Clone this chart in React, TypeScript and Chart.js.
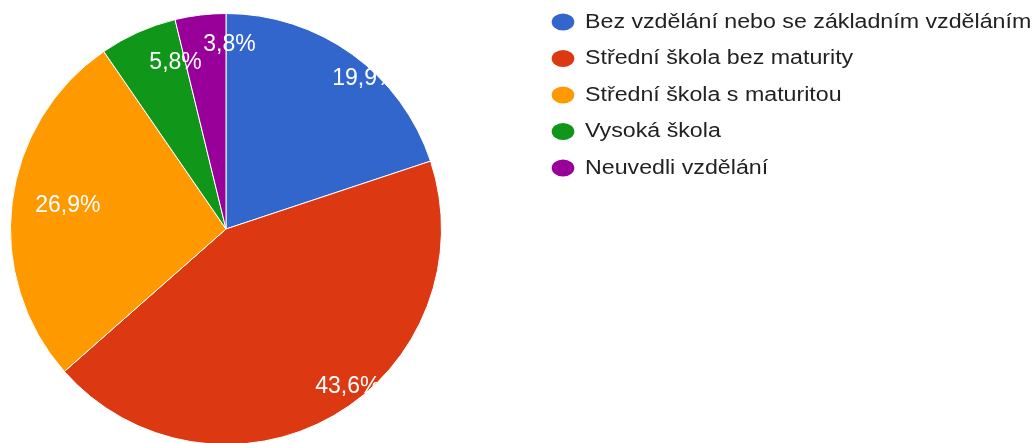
import React, { useEffect, useRef } from "react";
import { Chart, registerables } from "chart.js";

Chart.register(...registerables);

const categories = [
  "Bez vzdělání nebo se základním vzděláním",
  "Střední škola bez maturity",
  "Střední škola s maturitou",
  "Vysoká škola",
  "Neuvedli vzdělání",
];
const shares = [19.9, 43.6, 26.9, 5.8, 3.8];
const sliceLabels = ["19,9%", "43,6%", "26,9%", "5,8%", "3,8%"];
const colors = ["#3366cc", "#dc3912", "#ff9900", "#109618", "#990099"];

// label placement styling: nudges (px) from the point at 0.8R on each slice's mid-angle
const LABEL_NUDGES: [number, number][] = [
  [38, -11],
  [36, 8],
  [13, -2],
  [20, -9],
  [24, -13],
];

const pieLabelsPlugin = {
  id: "pieLabels",
  afterDatasetsDraw(chart: any) {
    const ctx = chart.ctx;
    const meta = chart.getDatasetMeta(0);
    if (!meta.data.length) return;
    const first = meta.data[0];
    const cx = first.x;
    const cy = first.y;
    const R = first.outerRadius;
    ctx.save();
    ctx.beginPath();
    ctx.arc(cx, cy, R, 0, Math.PI * 2);
    ctx.clip();
    ctx.fillStyle = "#ffffff";
    ctx.font = "23px Arial, 'Liberation Sans', sans-serif";
    ctx.textAlign = "center";
    ctx.textBaseline = "middle";
    meta.data.forEach((arc: any, i: number) => {
      const mid = (arc.startAngle + arc.endAngle) / 2;
      const r = R * 0.8;
      const [dx, dy] = LABEL_NUDGES[i];
      const x = cx + Math.cos(mid) * r + dx;
      const y = cy + Math.sin(mid) * r + dy;
      ctx.fillText(sliceLabels[i], x, y);
    });
    ctx.restore();
  },
};

const legendPlugin = {
  id: "sideLegend",
  afterDraw(chart: any) {
    const ctx = chart.ctx;
    const x0 = 563;
    const y0 = 22;
    const step = 36.5;
    const xScale = 1.16;
    ctx.save();
    ctx.font = "20px Arial, 'Liberation Sans', sans-serif";
    ctx.textBaseline = "middle";
    ctx.textAlign = "left";
    categories.forEach((name, i) => {
      const y = y0 + i * step;
      ctx.fillStyle = colors[i];
      ctx.beginPath();
      ctx.ellipse(x0, y, 11.3, 8.6, 0, 0, Math.PI * 2);
      ctx.fill();
      ctx.fillStyle = "#222222";
      ctx.save();
      ctx.translate(585, y);
      ctx.scale(xScale, 1);
      ctx.fillText(name, 0, 0);
      ctx.restore();
    });
    ctx.restore();
  },
};

export default function App() {
  const ref = useRef<HTMLCanvasElement | null>(null);
  useEffect(() => {
    if (!ref.current) return;
    const chart = new Chart(ref.current, {
      type: "pie",
      data: {
        labels: categories,
        datasets: [
          {
            data: shares,
            backgroundColor: colors,
            borderColor: "#ffffff",
            borderWidth: 1,
          },
        ],
      },
      options: {
        animation: false,
        responsive: false,
        devicePixelRatio: 1,
        layout: { padding: { left: 10, top: 13, right: 591, bottom: 15 } },
        plugins: {
          legend: { display: false },
          tooltip: { enabled: false },
        },
      },
      plugins: [pieLabelsPlugin, legendPlugin],
    });
    return () => chart.destroy();
  }, []);
  return (
    <div
      style={{
        position: "fixed",
        left: 0,
        top: 0,
        width: 1033,
        height: 443,
        overflow: "hidden",
        background: "#ffffff",
      }}
    >
      <canvas ref={ref} width={1033} height={460} style={{ display: "block" }} />
    </div>
  );
}
